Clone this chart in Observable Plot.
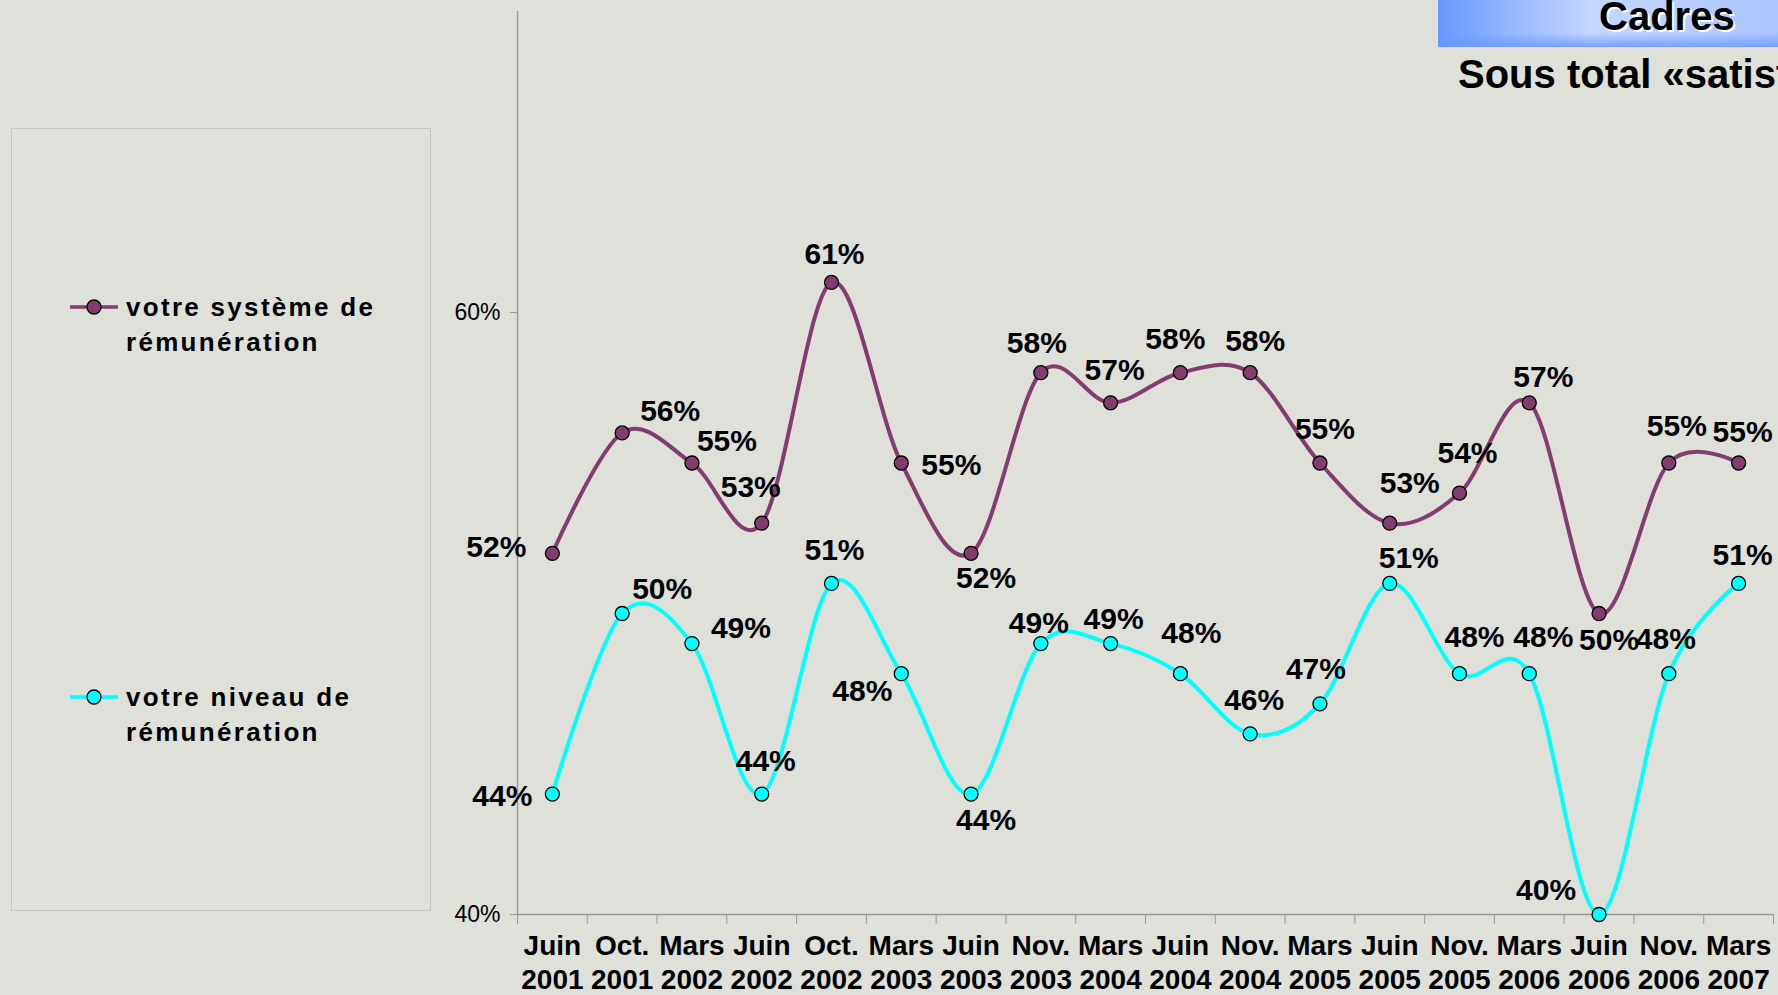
<!DOCTYPE html>
<html><head><meta charset="utf-8">
<script src="https://cdn.jsdelivr.net/npm/d3@7"></script>
<script src="https://cdn.jsdelivr.net/npm/@observablehq/plot@0.6"></script>
<style>
html,body{margin:0;padding:0;background:#dfe0da;overflow:hidden;}
#page{position:relative;width:1778px;height:995px;overflow:hidden;font-family:"Liberation Sans",Arial,sans-serif;background:#dfe0da;}
#chart{position:absolute;left:0;top:0;}
#titlebox{position:absolute;left:1438px;top:0;width:340px;height:47px;
  background:linear-gradient(180deg,rgba(102,153,255,0) 0%,rgba(102,153,255,0) 70%,rgba(102,153,255,0.85) 100%),
             linear-gradient(90deg,#6699ff 0%,#9dbcff 25%,#c4d7ff 45%,#b9cfff 70%,#a9c5ff 100%);}
#t1{position:absolute;left:1599px;top:-4px;font-size:40px;line-height:40px;font-weight:bold;color:#000;text-shadow:2px 2px 0 #fff;white-space:nowrap;}
#t2{position:absolute;left:1458px;top:54px;font-size:40px;line-height:40px;font-weight:bold;color:#000;white-space:nowrap;}
#legend{position:absolute;left:11px;top:128px;width:420px;height:783px;border:1.5px solid #c6c6c2;box-sizing:border-box;}
.item{position:absolute;left:0;width:400px;height:80px;}
.item svg{position:absolute;left:0;top:0;}
.item .lab{position:absolute;left:114px;top:0;font-size:26px;line-height:35px;font-weight:bold;letter-spacing:2.3px;white-space:pre;color:#000;}
</style></head><body>
<div id="page">
  <div id="titlebox"></div>
  <div id="t1">Cadres</div>
  <div id="t2">Sous total «satisfaits»</div>
  <div id="legend"></div>
  <div id="chart"></div>
</div>
<script>
// ---- data ----
const periods = ["Juin\n2001","Oct.\n2001","Mars\n2002","Juin\n2002","Oct.\n2002","Mars\n2003","Juin\n2003","Nov.\n2003","Mars\n2004","Juin\n2004","Nov.\n2004","Mars\n2005","Juin\n2005","Nov.\n2005","Mars\n2006","Juin\n2006","Nov.\n2006","Mars\n2007"];
const systeme = [52,56,55,53,61,55,52,58,57,58,58,55,53,54,57,50,55,55];
const niveau  = [44,50,49,44,51,48,44,49,49,48,46,47,51,48,48,40,48,51];
const seriesNames = ["votre système de\nrémunération","votre niveau de\nrémunération"];
const seriesColors = ["#833c6e","#00ffff"];
const yTicks = [40,60];
const yDomain = [40,70];

// label placement (pixel offsets from each point)
const sysOffsets = [[-56,-6],[48,-22],[35,-22],[-11,-36],[3,-28],[50,2],[15,25],[-4,-29],[4,-32],[-5,-33],[5,-31],[5,-34],[20,-40],[8,-40],[14,-25],[10,27],[8,-37],[4,-31]];
const nivOffsets = [[-50,2],[40,-24],[49,-15],[4,-33],[3,-33],[-39,18],[15,26],[-2,-20],[3,-24],[11,-40],[4,-34],[-4,-34],[19,-25],[15,-36],[14,-36],[-53,-24],[-3,-34],[4,-28]];

// ---- build ----
const idx = periods.map((_, i) => i);
const sysData = systeme.map((v, i) => ({i, v}));
const nivData = niveau.map((v, i) => ({i, v}));
const boundaries = d3.range(-0.5, periods.length, 1);

const labelOpts = {fontSize: 30, fontWeight: "bold", fill: "#000", fontFamily: "Liberation Sans, Arial, sans-serif"};
const labelMarks = [];
[[sysData, sysOffsets],[nivData, nivOffsets]].forEach(([data, offs]) => {
  data.forEach((d, k) => {
    labelMarks.push(Plot.text([d], {x: "i", y: "v", text: e => e.v + "%", dx: offs[k][0], dy: offs[k][1], ...labelOpts}));
  });
});

const chart = Plot.plot({
  width: 1778,
  height: 995,
  marginLeft: 517,
  marginRight: 5,
  marginTop: 11,
  marginBottom: 81,
  style: {background: "transparent", fontFamily: "Liberation Sans, Arial, sans-serif", color: "#000", overflow: "visible"},
  x: {type: "linear", domain: [-0.5, periods.length - 0.5], label: null},
  y: {domain: yDomain, label: null},
  marks: [
    Plot.ruleX([-0.5], {stroke: "#9a9a9a", strokeWidth: 1.5}),
    Plot.ruleY([yDomain[0]], {stroke: "#9a9a9a", strokeWidth: 1.5}),
    Plot.axisY(yTicks, {tickFormat: d => d + "%", tickSize: 7, tickPadding: 10, fontSize: 23, stroke: "#9a9a9a", fill: "#000"}),
    Plot.axisX(boundaries, {tickSize: 10, tickFormat: () => "", stroke: "#9a9a9a"}),
    Plot.axisX(idx, {tickSize: 0, tickPadding: 16, tickFormat: i => periods[i], fontSize: 28, fontWeight: "bold", lineHeight: 1.22, fill: "#000"}),
    Plot.line(sysData, {x: "i", y: "v", stroke: seriesColors[0], strokeWidth: 4, curve: "cardinal", tension: 0}),
    Plot.line(nivData, {x: "i", y: "v", stroke: seriesColors[1], strokeWidth: 4, curve: "cardinal", tension: 0}),
    Plot.dot(sysData, {x: "i", y: "v", r: 7, fill: seriesColors[0], stroke: "#000", strokeWidth: 1.3}),
    Plot.dot(nivData, {x: "i", y: "v", r: 7, fill: seriesColors[1], stroke: "#000", strokeWidth: 1.3}),
    ...labelMarks
  ]
});
document.getElementById("chart").appendChild(chart);

// ---- legend ----
const legend = document.getElementById("legend");
const itemTops = [161, 551]; // relative to legend box
seriesNames.forEach((name, k) => {
  const item = document.createElement("div");
  item.className = "item";
  item.style.top = itemTops[k] + "px";
  item.innerHTML = `<svg width="110" height="36"><line x1="58" x2="106" y1="17" y2="17" stroke="${seriesColors[k]}" stroke-width="3.5"/><circle cx="82" cy="17" r="7" fill="${seriesColors[k]}" stroke="#000" stroke-width="1.3"/></svg><div class="lab"></div>`;
  item.querySelector(".lab").textContent = name;
  legend.appendChild(item);
});
</script>
</body></html>
